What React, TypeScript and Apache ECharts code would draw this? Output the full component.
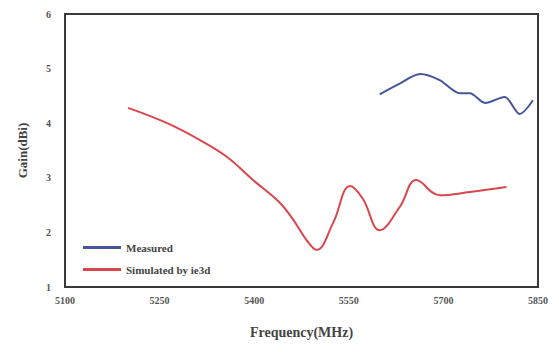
import React, { useEffect, useRef } from "react";
import * as echarts from "echarts";

const xTicks = [5100, 5250, 5400, 5550, 5700, 5850];
const yTicks = [1, 2, 3, 4, 5, 6];

const simFreq = [5200, 5262, 5314, 5357, 5398, 5441, 5462, 5483, 5499, 5525, 5552, 5572, 5599, 5631, 5657, 5694, 5742, 5800];
const simGain = [4.28, 4.0, 3.69, 3.38, 2.96, 2.54, 2.23, 1.86, 1.68, 2.17, 2.85, 2.62, 2.04, 2.47, 2.96, 2.68, 2.74, 2.83];

const measFreq = [5599, 5630, 5663, 5694, 5726, 5742, 5766, 5797, 5821, 5842];
const measGain = [4.53, 4.72, 4.9, 4.79, 4.55, 4.55, 4.37, 4.48, 4.17, 4.42];

const FONT = "Liberation Serif";

export default function App() {
  const ref = useRef<HTMLDivElement>(null);
  useEffect(() => {
    if (!ref.current) return;
    const chart = echarts.init(ref.current, undefined, { renderer: "svg" });
    chart.setOption({
      animation: false,
      grid: {
        left: 65,
        right: 21,
        top: 14,
        bottom: 65,
        show: true,
        borderColor: "#3a3a3a",
        borderWidth: 2,
        backgroundColor: "transparent",
      },
      legend: {
        orient: "vertical",
        left: 78,
        top: 237,
        itemWidth: 38,
        itemHeight: 3,
        itemGap: 11,
        icon: "rect",
        textStyle: { fontFamily: FONT, fontWeight: "bold", fontSize: 11, color: "#444" },
        data: ["Measured", "Simulated by ie3d"],
      },
      xAxis: {
        type: "value",
        min: xTicks[0],
        max: xTicks[xTicks.length - 1],
        interval: 150,
        name: "Frequency(MHz)",
        nameLocation: "middle",
        nameGap: 38,
        nameTextStyle: { fontFamily: FONT, fontWeight: "bold", fontSize: 14, color: "#444" },
        axisLine: { show: false },
        axisTick: { show: false },
        splitLine: { show: false },
        axisLabel: {
          fontFamily: FONT,
          fontWeight: "bold",
          fontSize: 10,
          color: "#555",
          margin: 8,
          formatter: (v: number) => String(v),
        },
      },
      yAxis: {
        type: "value",
        min: yTicks[0],
        max: yTicks[yTicks.length - 1],
        interval: 1,
        name: "Gain(dBi)",
        nameLocation: "middle",
        nameGap: 36,
        nameTextStyle: { fontFamily: FONT, fontWeight: "bold", fontSize: 13, color: "#444" },
        axisLine: { show: false },
        axisTick: { show: false },
        splitLine: { show: false },
        axisLabel: {
          fontFamily: FONT,
          fontWeight: "bold",
          fontSize: 10,
          color: "#555",
          margin: 14,
          formatter: (v: number) => String(v),
        },
      },
      series: [
        {
          name: "Measured",
          type: "line",
          smooth: 0.3,
          showSymbol: false,
          data: measFreq.map((f, i) => [f, measGain[i]]),
          lineStyle: { color: "#46549a", width: 2 },
          itemStyle: { color: "#46549a" },
        },
        {
          name: "Simulated by ie3d",
          type: "line",
          smooth: 0.4,
          showSymbol: false,
          data: simFreq.map((f, i) => [f, simGain[i]]),
          lineStyle: { color: "#d9474c", width: 2 },
          itemStyle: { color: "#d9474c" },
        },
      ],
    });
    return () => chart.dispose();
  }, []);
  return <div ref={ref} style={{ width: 559, height: 352, position: "absolute", left: 0, top: 0 }} />;
}
